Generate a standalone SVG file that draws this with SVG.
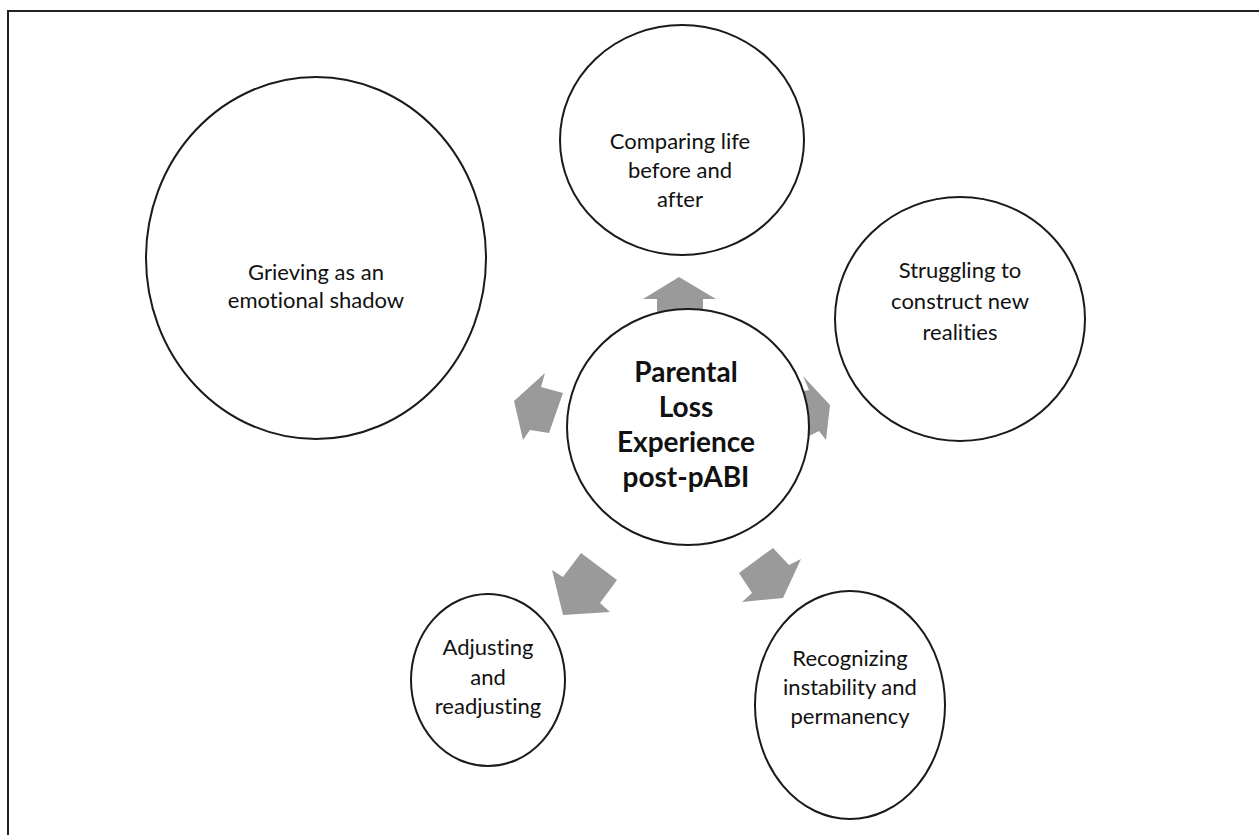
<svg xmlns="http://www.w3.org/2000/svg" width="1259" height="835" viewBox="0 0 1259 835">
<style>
text{font-variant-ligatures:none;font-feature-settings:"liga" 0,"clig" 0}
.node ellipse{fill:#fff;stroke:#1a1a1a;stroke-width:2}
.lbl{font-family:Lato,"Liberation Sans",sans-serif;font-size:22px;fill:#111;text-anchor:middle}
.center{font-family:Lato,"Liberation Sans",sans-serif;font-size:28px;font-weight:bold;fill:#111;text-anchor:middle}
.arrow{fill:#9a9a9a;stroke:none}
</style>
<rect width="1259" height="835" fill="#fff"/>
<path d="M8,835 V11 H1259" fill="none" stroke="#222" stroke-width="2"/>
<g id="connectors">
<polygon class="arrow" points="679,277 716,299 703,299 703,322 657,322 657,299 643,299"/>
<polygon class="arrow" points="830,405 826,440 819,431 807,437 793,393 809,390 803,376"/>
<polygon class="arrow" points="514,401 545,373 541,387 563,393 549,433 530,430 523,440"/>
<polygon class="arrow" points="563,615 552,570 563,577 581,553 617,580 600,603 610,612"/>
<polygon class="arrow" points="783,598 742,602 752,593 739,573 773,548 789,565 801,559"/>
</g>
<g id="node-top" class="node">
<ellipse cx="682" cy="140" rx="122" ry="115"/>
<text class="lbl" x="680" y="149">Comparing life</text>
<text class="lbl" x="680" y="178">before and</text>
<text class="lbl" x="680" y="207">after</text>
</g>
<g id="node-left" class="node">
<ellipse cx="316" cy="258" rx="170" ry="181"/>
<text class="lbl" x="316" y="280">Grieving as an</text>
<text class="lbl" x="316" y="308">emotional shadow</text>
</g>
<g id="node-right" class="node">
<ellipse cx="960" cy="319" rx="125" ry="122"/>
<text class="lbl" x="960" y="278">Struggling to</text>
<text class="lbl" x="960" y="309">construct new</text>
<text class="lbl" x="960" y="340">realities</text>
</g>
<g id="node-center" class="node">
<ellipse cx="688" cy="427" rx="121" ry="118"/>
<text class="center" x="686" y="382">Parental</text>
<text class="center" x="686" y="417">Loss</text>
<text class="center" x="686" y="452">Experience</text>
<text class="center" x="686" y="487">post-pABI</text>
</g>
<g id="node-bottom-left" class="node">
<ellipse cx="488" cy="680" rx="77" ry="86"/>
<text class="lbl" x="488" y="655">Adjusting</text>
<text class="lbl" x="488" y="685">and</text>
<text class="lbl" x="488" y="714">readjusting</text>
</g>
<g id="node-bottom-right" class="node">
<ellipse cx="850" cy="705" rx="95" ry="114"/>
<text class="lbl" x="850" y="666">Recognizing</text>
<text class="lbl" x="850" y="695">instability and</text>
<text class="lbl" x="850" y="724">permanency</text>
</g>
</svg>
